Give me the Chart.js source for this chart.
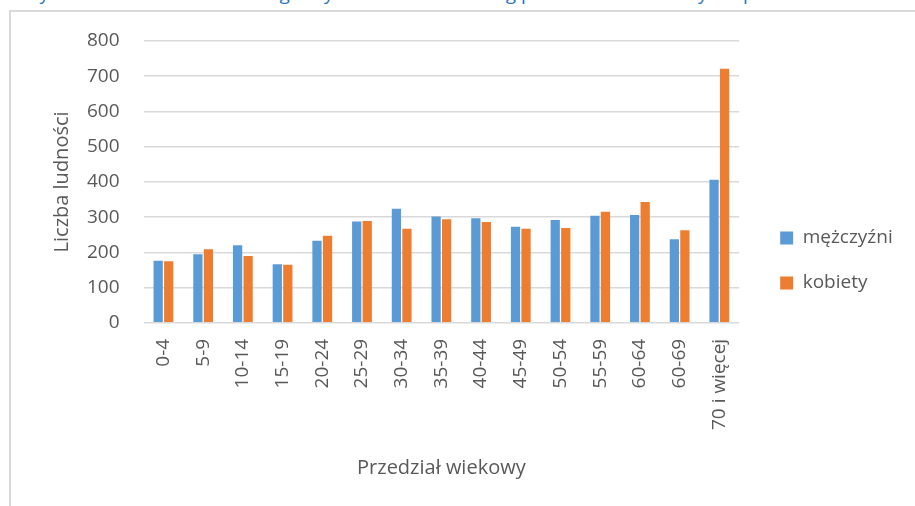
<!DOCTYPE html>
<html>
<head>
<meta charset="utf-8">
<script src="https://cdn.jsdelivr.net/npm/chart.js@4.4.0/dist/chart.umd.min.js"></script>
<style>
  html, body { margin: 0; padding: 0; background: #fff; }
  #wrap { position: relative; width: 915px; height: 506px; overflow: hidden; }
  #caption { position: absolute; left: 22px; top: -20px; white-space: nowrap;
    font: 19px "Open Sans", sans-serif; color: #2E75B6; }
  #frame { position: absolute; left: 9px; top: 10px; width: 930px; height: 520px;
    border: 2px solid #d9d9d9; box-sizing: border-box; }
  #chart { position: absolute; left: 0; top: 0; }
</style>
</head>
<body>
<div id="wrap">
  <div id="caption">Wykres 1. Struktura ludności gminy w roku 2016 według przedziałów wiekowych i płci</div>
  <div id="frame"></div>
  <canvas id="chart" width="915" height="506"></canvas>
</div>
<script>
// przedziały wiekowe
const ageGroups = ["0-4", "5-9", "10-14", "15-19", "20-24", "25-29", "30-34", "35-39",
  "40-44", "45-49", "50-54", "55-59", "60-64", "60-69", "70 i więcej"];
const men = [176, 195, 220, 166, 233, 288, 324, 302, 297, 273, 292, 304, 306, 237, 406];
const women = [175, 209, 190, 165, 247, 289, 267, 294, 286, 267, 269, 315, 343, 263, 721];
const yTicks = [0, 100, 200, 300, 400, 500, 600, 700, 800];

const textColor = "#595959";
const gridColor = "#d9d9d9";
const fontFamily = "'Open Sans', sans-serif";

new Chart(document.getElementById("chart").getContext("2d"), {
  type: "bar",
  data: {
    labels: ageGroups,
    datasets: [
      { label: "mężczyźni", data: men, backgroundColor: "#5B9BD5" },
      { label: "kobiety", data: women, backgroundColor: "#ED7D31" }
    ]
  },
  options: {
    responsive: false,
    animation: false,
    datasets: { bar: { categoryPercentage: 0.53, barPercentage: 0.88 } },
    layout: { padding: { top: 41, left: 50, right: 20, bottom: 26 } },
    plugins: {
      tooltip: { enabled: false },
      legend: {
        position: "right",
        labels: {
          color: textColor,
          font: { family: fontFamily, size: 19 },
          boxWidth: 13,
          boxHeight: 13,
          padding: 26
        }
      }
    },
    scales: {
      x: {
        grid: { display: false, drawTicks: false },
        border: { display: false },
        ticks: {
          color: textColor,
          font: { family: fontFamily, size: 19 },
          maxRotation: 90,
          minRotation: 90,
          autoSkip: false,
          padding: 16
        },
        title: {
          display: true,
          text: "Przedział wiekowy",
          color: textColor,
          font: { family: fontFamily, size: 20 },
          padding: { top: 10, bottom: 0 }
        }
      },
      y: {
        min: 0,
        max: 800,
        afterBuildTicks: (axis) => { axis.ticks = yTicks.map(v => ({ value: v })); },
        afterFit: (scale) => { scale.width -= 15; },
        grid: { color: gridColor, lineWidth: 1.5, drawTicks: false },
        border: { display: false },
        ticks: {
          color: textColor,
          font: { family: fontFamily, size: 19 },
          padding: 24
        },
        title: {
          display: true,
          text: "Liczba ludności",
          color: textColor,
          font: { family: fontFamily, size: 20 },
          padding: { top: 0, bottom: 4 }
        }
      },
      // pusty odstęp między wykresem a legendą
      gap: {
        type: "linear",
        position: "right",
        grid: { display: false },
        border: { display: false },
        ticks: { display: false },
        afterFit: (scale) => { scale.width = 15; }
      }
    }
  }
});
</script>
</body>
</html>
